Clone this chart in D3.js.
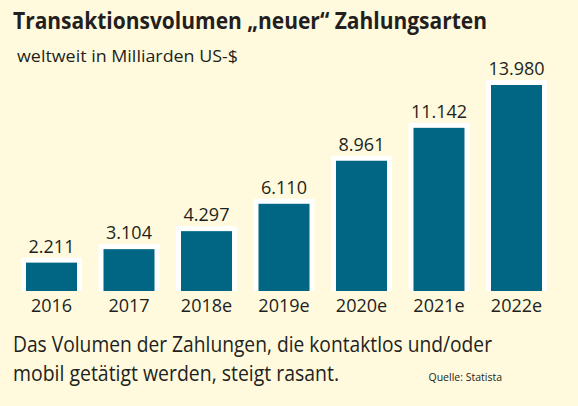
<!DOCTYPE html>
<html>
<head>
<meta charset="utf-8">
<script src="https://cdn.jsdelivr.net/npm/d3@7"></script>
<style>
  html, body { margin: 0; padding: 0; background: #fffadd; }
  svg { display: block; }
  text { font-family: "Open Sans", "Noto Sans", sans-serif; fill: #231f20; }
</style>
</head>
<body>
<svg id="chart" width="578" height="406"></svg>
<script>
const categories = ["2016", "2017", "2018e", "2019e", "2020e", "2021e", "2022e"];
const values = [2211, 3104, 4297, 6110, 8961, 11142, 13980];
const valueLabels = ["2.211", "3.104", "4.297", "6.110", "8.961", "11.142", "13.980"];
const title = "Transaktionsvolumen \u201Eneuer\u201C Zahlungsarten";
const subtitle = "weltweit in Milliarden US-$";
const noteLines = ["Das Volumen der Zahlungen, die kontaktlos und/oder", "mobil getätigt werden, steigt rasant."];
const source = "Quelle: Statista";

const W = 578, H = 406;
const svg = d3.select("#chart");
svg.append("rect").attr("width", W).attr("height", H).attr("fill", "#fffadd");

const x = d3.scaleBand().domain(categories).range([12.75, 555.25]).paddingInner(0.2129).paddingOuter(0.1065);
const y = d3.scaleLinear().domain([0, 13980]).range([291, 80]);
const border = 5;

const data = categories.map((c, i) => ({ c, v: values[i], label: valueLabels[i] }));

// white outer bars
svg.append("g").selectAll("rect").data(data).join("rect")
  .attr("x", d => x(d.c)).attr("y", d => y(d.v))
  .attr("width", x.bandwidth()).attr("height", d => y(0) - y(d.v))
  .attr("fill", "#ffffff");
// teal inner bars
svg.append("g").selectAll("rect").data(data).join("rect")
  .attr("x", d => x(d.c) + border).attr("y", d => y(d.v) + border)
  .attr("width", x.bandwidth() - 2 * border).attr("height", d => y(0) - y(d.v) - border)
  .attr("fill", "#006683");

// value labels
svg.append("g").selectAll("text").data(data).join("text")
  .attr("x", d => x(d.c) + x.bandwidth() / 2).attr("y", d => y(d.v) - 5)
  .attr("text-anchor", "middle").attr("font-size", 18)
  .text(d => d.label);

// category axis labels
const xAxis = d3.axisBottom(x).tickSize(0).tickPadding(0);
const gx = svg.append("g").attr("transform", `translate(0,${y(0)})`).call(xAxis);
gx.select(".domain").remove();
gx.selectAll("text").attr("dy", null).attr("y", 21).attr("font-size", 18)
  .attr("fill", "#231f20").style("font-family", '"Open Sans", "Noto Sans", sans-serif');

// title
svg.append("text").attr("x", 13).attr("y", 29).attr("font-size", 24).attr("font-weight", 700)
  .attr("textLength", 474).attr("lengthAdjust", "spacingAndGlyphs").text(title);
// subtitle
svg.append("text").attr("x", 17).attr("y", 62).attr("font-size", 17)
  .attr("textLength", 221).attr("lengthAdjust", "spacingAndGlyphs").text(subtitle);
// note
const noteY = [351.7, 381];
const noteW = [479, 326];
noteLines.forEach((t, i) => {
  svg.append("text").attr("x", 13).attr("y", noteY[i]).attr("font-size", 22)
    .attr("textLength", noteW[i]).attr("lengthAdjust", "spacingAndGlyphs").text(t);
});
// source
svg.append("text").attr("x", 502).attr("y", 380.7).attr("font-size", 10.5)
  .attr("text-anchor", "end").text(source);
</script>
</body>
</html>
